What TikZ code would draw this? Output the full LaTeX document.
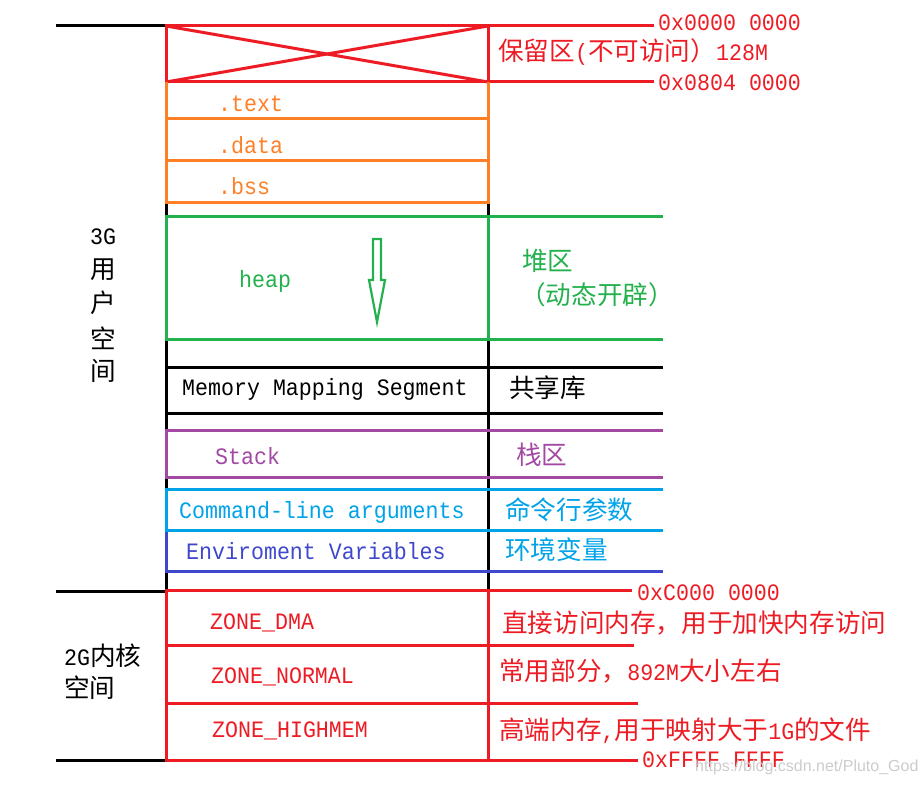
\documentclass[tikz,border=0pt]{standalone}
\usepackage{fontspec}
\setmainfont[FakeStretch=0.92]{Liberation Mono}
\newfontfamily\cjk[Scale=1.09]{Noto Sans CJK SC}
\newfontfamily\wmfont{Liberation Sans}
\definecolor{cred}{HTML}{ED1C24}
\definecolor{corange}{HTML}{FF7F27}
\definecolor{cgreen}{HTML}{22B14C}
\definecolor{cpurple}{HTML}{A349A4}
\definecolor{ccyan}{HTML}{00A2E8}
\definecolor{cblue}{HTML}{3F48CC}
\begin{document}
\begin{tikzpicture}[x=1pt,y=-1pt,
  lbl/.style={inner sep=0pt, anchor=west, font=\fontsize{23.5}{28}\selectfont},
  seg/.style={line width=3pt, line cap=rect}]
\useasboundingbox (0,0) rectangle (923,786);
% black frame
\draw[seg,black] (166,26) -- (166,760);
\draw[seg,black] (488,200) -- (488,760);
\draw[seg,black] (57,26) -- (166,26);
\draw[seg,black] (57,591) -- (166,591);
\draw[seg,black] (57,760) -- (166,760);
% reserved
\draw[seg,cred] (166,26) rectangle (488,82);
\draw[line width=3pt,cred] (166,26) -- (488,82);
\draw[line width=3pt,cred] (166,82) -- (488,26);
\draw[seg,cred] (488,26) -- (652,26);
\draw[seg,cred] (488,82) -- (652,82);
% text data bss
\draw[seg,corange] (166,84) -- (166,203) -- (488,203) -- (488,84);
\draw[seg,corange] (166,119) -- (488,119);
\draw[seg,corange] (166,161) -- (488,161);
% heap
\draw[seg,cgreen] (166,217) rectangle (488,339);
\draw[seg,cgreen] (488,217) -- (661,217);
\draw[seg,cgreen] (488,339) -- (661,339);
\draw[line width=2.2pt,cgreen,line join=miter] (373,239) -- (381,239) -- (381,280) -- (385,280) -- (377,322) -- (369,280) -- (373,280) -- cycle;
% mmap
\draw[seg,black] (166,367) -- (661,367);
\draw[seg,black] (166,413) -- (661,413);
% stack
\draw[seg,cpurple] (166,430) -- (661,430);
\draw[seg,cpurple] (166,477) -- (661,477);
\draw[seg,cpurple] (166,430) -- (166,477);
% env
\draw[seg,cblue] (166,530) -- (166,571) -- (661,571);
% cmdline
\draw[seg,ccyan] (166,489) -- (661,489);
\draw[seg,ccyan] (166,530) -- (661,530);
\draw[seg,ccyan] (166,489) -- (166,530);
% kernel
\draw[seg,cred] (166,590) -- (630,590);
\draw[seg,cred] (166,590) -- (166,760) -- (636,760);
\draw[seg,cred] (488,590) -- (488,760);
\draw[seg,cred] (166,645) -- (632,645);
\draw[seg,cred] (166,703) -- (636,703);

% labels
\node[lbl,cred] (a0) at (658,23) {0x0000 0000};
\node[lbl,cred] (res) at (498,52) {{\cjk 保留区}({\cjk 不可访问）}128M};
\node[lbl,cred] (a1) at (658,83) {0x0804 0000};
\node[lbl,corange] (t) at (218,104) {.text};
\node[lbl,corange] (d) at (218,145) {.data};
\node[lbl,corange] (b) at (218,186) {.bss};
\node[lbl,cgreen] (h) at (239,281) {heap};
\node[lbl,cgreen] (h1) at (522,261) {\cjk 堆区};
\node[lbl,cgreen] (h2) at (520,295) {\cjk （动态开辟）};
\node[lbl,black] (m) at (182,389) {Memory Mapping Segment};
\node[lbl,black] (m1) at (509,388) {\cjk 共享库};
\node[lbl,cpurple] (s) at (215,456) {Stack};
\node[lbl,cpurple] (s1) at (516,455) {\cjk 栈区};
\node[lbl,ccyan] (c) at (179,512) {Command-line arguments};
\node[lbl,ccyan] (c1) at (505,510) {\cjk 命令行参数};
\node[lbl,cblue] (e) at (186,551) {Enviroment Variables};
\node[lbl,ccyan] (e1) at (505,550) {\cjk 环境变量};
\node[lbl,cred] (ac) at (637,593) {0xC000 0000};
\node[lbl,cred] (z1) at (210,623) {ZONE\_DMA};
\node[lbl,cred] (z1t) at (502,623) {\cjk 直接访问内存，用于加快内存访问};
\node[lbl,cred] (z2) at (211,677) {ZONE\_NORMAL};
\node[lbl,cred] (z2t) at (499,671) {{\cjk 常用部分，}892M{\cjk 大小左右}};
\node[lbl,cred] (z3) at (212,731) {ZONE\_HIGHMEM};
\node[lbl,cred] (z3t) at (499,731) {{\cjk 高端内存},{\cjk 用于映射大于}1G{\cjk 的文件}};
\node[lbl,cred] (af) at (642,760) {0xFFFF FFFF};
% left side
\node[lbl,black] (g3) at (90,237) {3G};
\node[lbl,black] (u1) at (90,270) {\cjk 用};
\node[lbl,black] (u2) at (90,303) {\cjk 户};
\node[lbl,black] (u3) at (90,338) {\cjk 空};
\node[lbl,black] (u4) at (90,371) {\cjk 间};
\node[lbl,black] (k1) at (64,656) {2G{\cjk 内核}};
\node[lbl,black] (k2) at (64,688) {\cjk 空间};
\node[inner sep=0pt,anchor=west,gray!40,font=\wmfont\fontsize{16}{18}\selectfont] (wm) at (695,767) {https://blog.csdn.net/Pluto\_God};
\end{tikzpicture}
\end{document}
